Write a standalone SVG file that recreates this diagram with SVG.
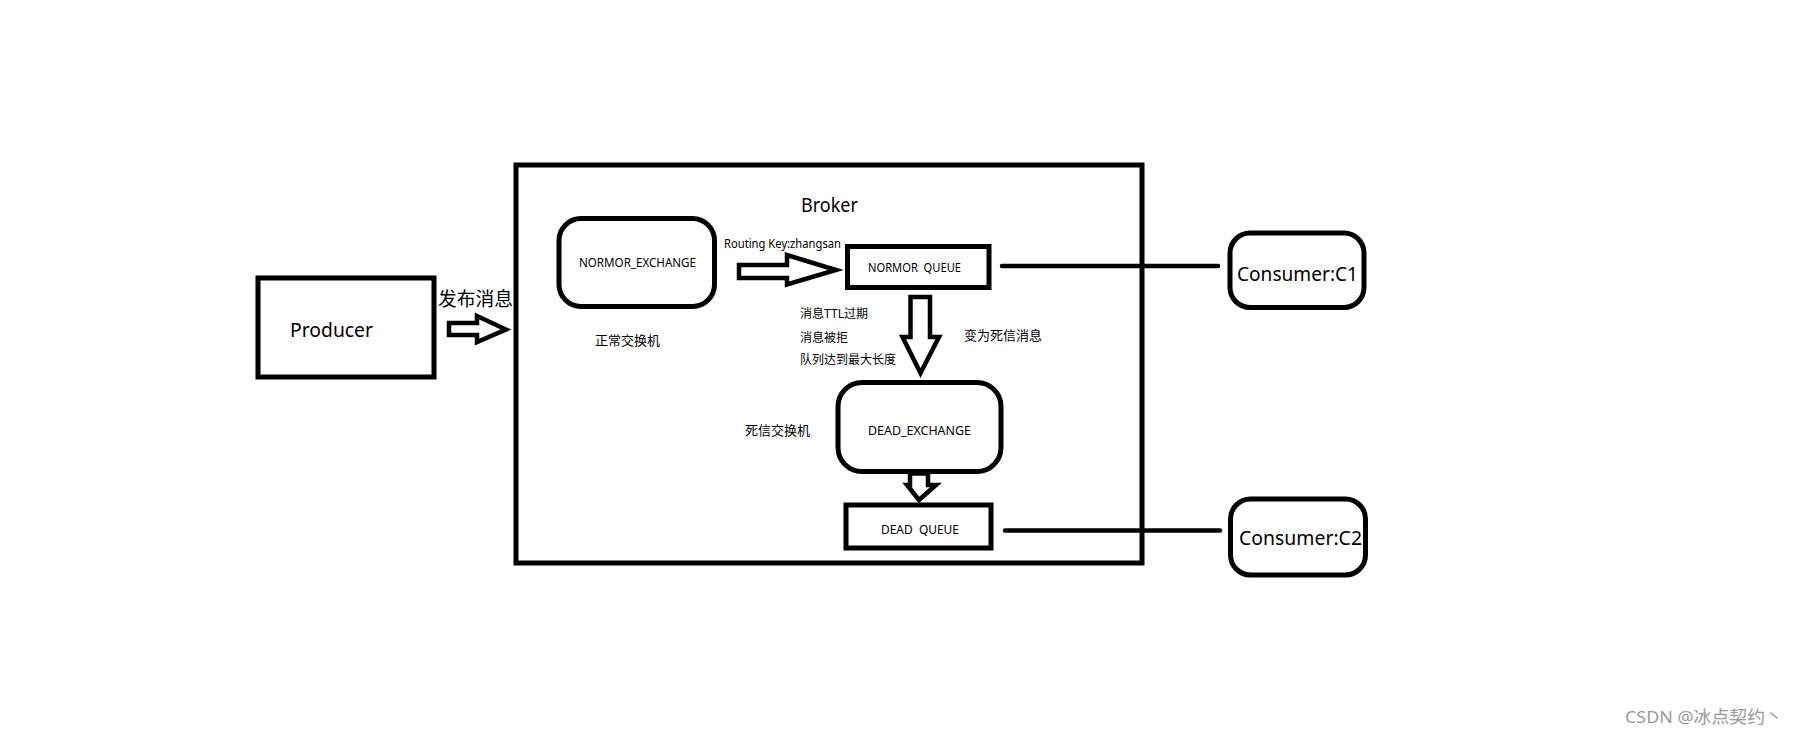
<svg xmlns="http://www.w3.org/2000/svg" width="1804" height="743" viewBox="0 0 1804 743">
<style>
.box{fill:#fff;stroke:#000;stroke-width:5}
.arr{fill:#fff;stroke:#000;stroke-width:4.5;stroke-linejoin:miter}
.line{stroke:#000;stroke-width:4.5;stroke-linecap:round;fill:none}
text{font-family:"Noto Sans","Noto Sans CJK SC",sans-serif;fill:#000}
.big{font-size:19px}
.mid{font-size:13px}
.sm{font-size:12px}
</style>
<rect width="1804" height="743" fill="#fff"/>
<g id="broker">
<rect class="box" x="516" y="165" width="626" height="398"/>
<text class="big" x="801" y="212" textLength="57" lengthAdjust="spacingAndGlyphs">Broker</text>
</g>
<g id="producer">
<rect class="box" x="258" y="278" width="176" height="99"/>
<text class="big" x="290" y="337" textLength="83" lengthAdjust="spacingAndGlyphs">Producer</text>
</g>
<g id="normor-exchange">
<rect class="box" x="559" y="218.5" width="155.5" height="88" rx="22"/>
<text class="sm" x="579" y="267" textLength="117" lengthAdjust="spacingAndGlyphs">NORMOR_EXCHANGE</text>
<text class="mid" x="595" y="345" textLength="65" lengthAdjust="spacingAndGlyphs">正常交换机</text>
</g>
<g id="normor-queue">
<rect class="box" x="847.5" y="246.5" width="141.5" height="41"/>
<text class="sm" x="868" y="272" textLength="93" lengthAdjust="spacingAndGlyphs" xml:space="preserve">NORMOR  QUEUE</text>
</g>
<g id="dead-exchange">
<rect class="box" x="838" y="382.5" width="163" height="89" rx="24"/>
<text class="sm" x="868" y="435" textLength="103" lengthAdjust="spacingAndGlyphs">DEAD_EXCHANGE</text>
<text class="mid" x="745" y="435" textLength="65" lengthAdjust="spacingAndGlyphs">死信交换机</text>
</g>
<g id="dead-queue">
<rect class="box" x="846" y="505" width="145" height="43"/>
<text class="sm" x="881" y="534" textLength="78" lengthAdjust="spacingAndGlyphs" xml:space="preserve">DEAD  QUEUE</text>
</g>
<g id="consumer-c1">
<rect class="box" x="1230" y="233" width="134" height="74.5" rx="20"/>
<text class="big" x="1237" y="281" textLength="121" lengthAdjust="spacingAndGlyphs">Consumer:C1</text>
</g>
<g id="consumer-c2">
<rect class="box" x="1230.5" y="499" width="135" height="76" rx="20"/>
<text class="big" x="1239" y="545" textLength="123" lengthAdjust="spacingAndGlyphs">Consumer:C2</text>
</g>
<g id="connectors">
<path class="arr" d="M449,323 L477,323 L477,316 L506,329.5 L477,342 L477,335 L449,335 Z"/>
<text class="big" x="438" y="306" textLength="75" lengthAdjust="spacingAndGlyphs">发布消息</text>
<path class="arr" d="M739,265 L787,265 L787,255 L836,270 L787,284.5 L787,278 L739,278 Z"/>
<text class="sm" x="724" y="248" textLength="117" lengthAdjust="spacingAndGlyphs">Routing Key:zhangsan</text>
<path class="arr" d="M910.5,297 L930,297 L930,337 L939,337 L920.5,373 L902.5,337 L910.5,337 Z"/>
<text class="sm" x="800" y="318" textLength="68" lengthAdjust="spacingAndGlyphs">消息TTL过期</text>
<text class="sm" x="800" y="341.5" textLength="48" lengthAdjust="spacingAndGlyphs">消息被拒</text>
<text class="sm" x="800" y="364" textLength="96" lengthAdjust="spacingAndGlyphs">队列达到最大长度</text>
<text class="mid" x="964" y="340" textLength="78" lengthAdjust="spacingAndGlyphs">变为死信消息</text>
<path class="arr" d="M910,473.5 L928,473.5 L928,485 L936,485 L919,500 L907,485 L910,485 Z"/>
<line class="line" x1="1002" y1="266" x2="1218" y2="266"/>
<line class="line" x1="1005" y1="530.5" x2="1220" y2="530.5"/>
</g>
<text x="1625" y="723" font-size="17" textLength="158" lengthAdjust="spacingAndGlyphs" style="fill:#999" font-family="Liberation Sans, 'Noto Sans CJK SC', sans-serif">CSDN @冰点契约丶</text>
</svg>
